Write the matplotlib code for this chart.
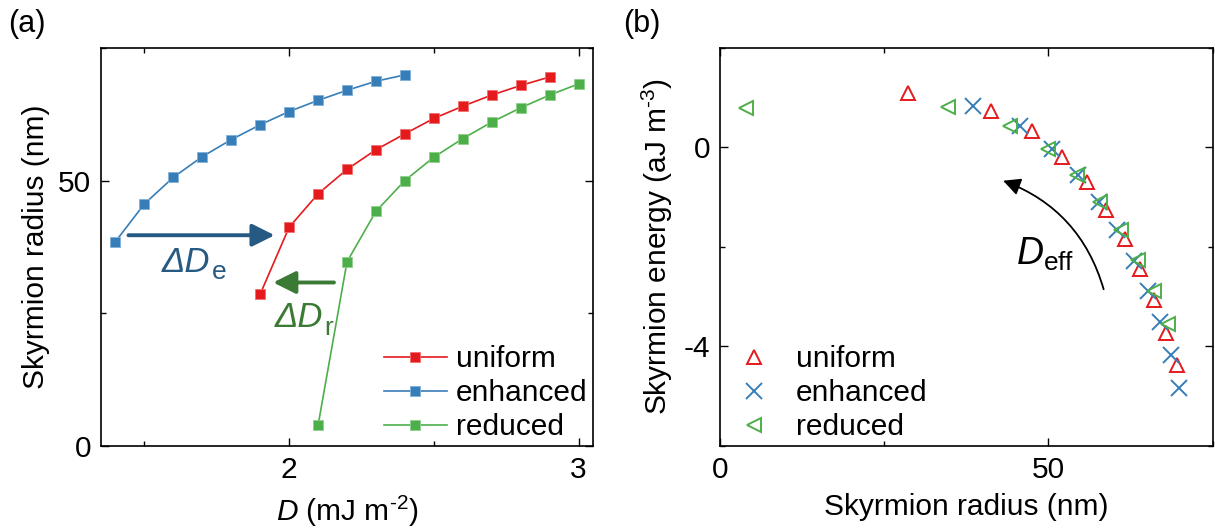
import numpy as np
import matplotlib
matplotlib.use("Agg")
import matplotlib.pyplot as plt
from matplotlib.ticker import MultipleLocator

plt.rcParams['font.family'] = ['Liberation Sans', 'DejaVu Sans']
plt.rcParams['font.size'] = 21.5
plt.rcParams['axes.unicode_minus'] = False
plt.rcParams['mathtext.fontset'] = 'custom'
plt.rcParams['mathtext.rm'] = 'Liberation Sans'
plt.rcParams['mathtext.it'] = 'Liberation Sans:italic'
plt.rcParams['mathtext.bf'] = 'Liberation Sans:bold'

# panel (a): radius vs D
D_uniform = [1.9, 2.0, 2.1, 2.2, 2.3, 2.4, 2.5, 2.6, 2.7, 2.8, 2.9]
R_uniform = [28.6, 41.2, 47.5, 52.1, 55.8, 58.8, 61.7, 64.0, 66.1, 67.9, 69.5]
D_enhanced = [1.4, 1.5, 1.6, 1.7, 1.8, 1.9, 2.0, 2.1, 2.2, 2.3, 2.4]
R_enhanced = [38.5, 45.6, 50.6, 54.5, 57.7, 60.5, 63.0, 65.1, 67.0, 68.7, 69.9]
D_reduced = [2.1, 2.2, 2.3, 2.4, 2.5, 2.6, 2.7, 2.8, 2.9, 3.0]
R_reduced = [3.9, 34.7, 44.2, 50.0, 54.4, 57.9, 61.0, 63.7, 66.1, 68.2]

# panel (b): energy vs radius
E_uniform = [1.09, 0.74, 0.32, -0.19, -0.70, -1.26, -1.84, -2.44, -3.06, -3.72, -4.37]
E_enhanced = [0.84, 0.43, -0.04, -0.55, -1.10, -1.67, -2.28, -2.88, -3.51, -4.17, -4.84]
E_reduced = [0.80, 0.82, 0.42, -0.04, -0.55, -1.09, -1.66, -2.26, -2.88, -3.54]

c_red = '#e41a1c'
c_blue = '#377eb8'
c_green = '#4daf4a'
c_arrow_e = '#265a82'
c_arrow_r = '#3b7a35'

fig = plt.figure(figsize=(12.15, 5.31), dpi=100)
ax1 = fig.add_axes([0.0831, 0.160, 0.405, 0.750])
ax2 = fig.add_axes([0.5926, 0.160, 0.4055, 0.750])

for ax in (ax1, ax2):
    for s in ax.spines.values():
        s.set_linewidth(1.2)
    ax.tick_params(which='both', direction='in', top=True, right=True, width=1.0)
    ax.tick_params(which='major', length=6, pad=7)
    ax.tick_params(which='minor', length=3.5)


def label_with_sub(ax, x, y, main, sub, color):
    # italic main part with an upright subscript right after it
    t = ax.text(x, y, main, style='italic', fontsize=25, color=color, ha='left', va='baseline')
    ax.annotate(sub, xy=(1.0, 0.0), xycoords=t, xytext=(1, -4), textcoords='offset points',
                fontsize=19, color=color, ha='left', va='bottom')


# (a)
mk = dict(marker='s', markersize=6.5, lw=1.2, markeredgewidth=0.6)
ax1.plot(D_uniform, R_uniform, color=c_red, markeredgecolor='#f07070', label='uniform', **mk)
ax1.plot(D_enhanced, R_enhanced, color=c_blue, markeredgecolor='#7fb0dc', label='enhanced', **mk)
ax1.plot(D_reduced, R_reduced, color=c_green, markeredgecolor='#8fd08c', label='reduced', **mk)
ax1.set_xlim(1.35, 3.05)
ax1.set_ylim(0, 75)
ax1.xaxis.set_major_locator(MultipleLocator(1))
ax1.xaxis.set_minor_locator(MultipleLocator(0.5))
ax1.yaxis.set_major_locator(MultipleLocator(50))
ax1.yaxis.set_minor_locator(MultipleLocator(25))
ax1.set_xlabel('$\\mathit{D}$ (mJ m$^{\\mathrm{\u2010}2}$)', labelpad=7)
ax1.set_ylabel('Skyrmion radius (nm)', labelpad=6)

ax1.annotate('', xy=(1.95, 39.7), xytext=(1.445, 39.7),
             arrowprops=dict(arrowstyle='-|>', lw=2.8, mutation_scale=34, color=c_arrow_e,
                             shrinkA=0, shrinkB=0))
label_with_sub(ax1, 1.56, 32.8, '\u0394D', 'e', c_arrow_e)
ax1.annotate('', xy=(1.945, 30.8), xytext=(2.155, 30.8),
             arrowprops=dict(arrowstyle='-|>', lw=2.8, mutation_scale=34, color=c_arrow_r,
                             shrinkA=0, shrinkB=0))
label_with_sub(ax1, 1.95, 22.4, '\u0394D', 'r', c_arrow_r)

ax1.legend(loc='lower left', bbox_to_anchor=(0.575, 0.012), frameon=False, borderpad=0,
           borderaxespad=0, handlelength=2.1, handletextpad=0.3, labelspacing=0.2)

# (b)
ax2.plot(R_uniform, E_uniform, ls='none', marker='^', markersize=10, markerfacecolor='none',
         markeredgecolor=c_red, markeredgewidth=1.4, label='uniform')
ax2.plot(R_enhanced, E_enhanced, ls='none', marker='x', markersize=11,
         markeredgecolor=c_blue, markeredgewidth=1.4, label='enhanced')
ax2.plot(R_reduced, E_reduced, ls='none', marker='<', markersize=10, markerfacecolor='none',
         markeredgecolor=c_green, markeredgewidth=1.4, label='reduced')
ax2.set_xlim(0, 75)
ax2.set_ylim(-6, 2)
ax2.xaxis.set_major_locator(MultipleLocator(50))
ax2.xaxis.set_minor_locator(MultipleLocator(25))
ax2.yaxis.set_major_locator(MultipleLocator(4))
ax2.yaxis.set_minor_locator(MultipleLocator(2))
ax2.set_xlabel('Skyrmion radius (nm)', labelpad=7)
ax2.set_ylabel('Skyrmion energy (aJ m$^{\\mathrm{\u2010}3}$)', labelpad=6)

ax2.annotate('', xy=(43.1, -0.67), xytext=(58.4, -2.85),
             arrowprops=dict(arrowstyle='-|>', lw=1.3, mutation_scale=26, color='black',
                             shrinkA=0, shrinkB=0, connectionstyle='arc3,rad=0.25'))
ax2.text(49.5, -2.15, '$\\mathit{D}_{\\mathrm{eff}}$', fontsize=27, ha='center', va='center')

ax2.legend(loc='lower left', bbox_to_anchor=(0.012, 0.012), frameon=False, borderpad=0,
           borderaxespad=0, handlelength=1.9, handletextpad=0.45, labelspacing=0.2,
           numpoints=1)

fig.text(0.007, 0.955, '(a)', fontsize=22, va='center')
fig.text(0.513, 0.955, '(b)', fontsize=22, va='center')

fig.savefig('out.png', dpi=100)
